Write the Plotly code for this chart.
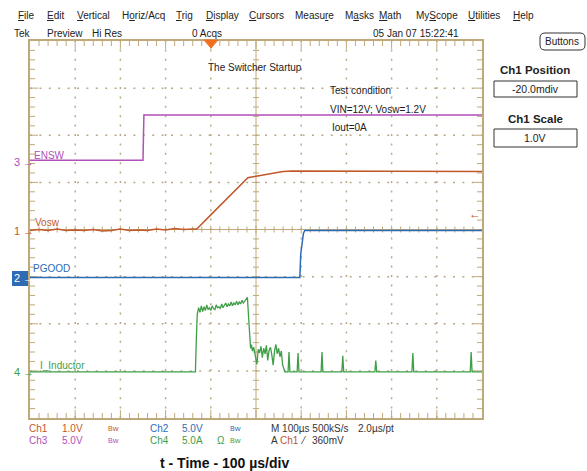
import plotly.graph_objects as go

# window / graticule geometry in pixels
W, H = 587, 471
L, R, T, B = 30, 482, 41, 418

# channel settings: units per div, position in div
ch1_scale, ch1_pos = 1.0, -0.02
ch2_scale, ch2_pos = 5.0, -1.02
ch3_scale, ch3_pos = 5.0, 1.47
ch4_scale, ch4_pos = 5.0, -3.02

# time base: 100 us/div, 10 div
t_span = 1000

# Ch3 - ENSW (V)
ensw_t = [0, 250, 252, 1000]
ensw_v = [0.0, 0.0, 4.8, 4.8]

# Ch1 - Vosw (V)
vosw_t = [0, 20, 40, 60, 80, 100, 120, 140, 160, 180, 200, 220, 240, 260, 280, 300, 320, 340, 360, 369,
          400, 430, 460, 482, 500, 520, 540, 560, 580, 600, 640, 700, 800, 900, 1000]
vosw_v = [0.0, 0.02, 0.0, 0.03, 0.0, 0.01, 0.0, 0.02, -0.01, 0.0, 0.03, 0.0, 0.01, 0.0, 0.03, 0.01, 0.04, 0.02, 0.03, 0.03,
          0.33, 0.62, 0.91, 1.12, 1.15, 1.18, 1.22, 1.25, 1.26, 1.26, 1.25, 1.25, 1.25, 1.25, 1.25]

# Ch2 - PGOOD (V)
pgood_t = [0, 597, 599, 602, 605, 608, 1000]
pgood_v = [0.0, 0.0, 2.5, 4.0, 4.7, 5.0, 5.0]

# Ch4 - I_Inductor (A)
ind_t = [0, 366, 368, 370, 373, 376, 379, 382, 385, 388, 391, 394, 397, 400, 403, 406, 409, 412, 415, 418,
         421, 424, 427, 430, 433, 436, 439, 442, 445, 448, 451, 454, 457, 460, 463, 466, 469, 472, 475, 478,
         481, 484, 486, 488, 490, 492, 495, 498, 502, 505, 508, 511, 514, 517, 520, 523, 526, 529, 532, 535,
         538, 541, 544, 547, 550, 553, 556, 559, 562, 564, 571, 573, 575, 591, 593, 595, 644, 646, 648, 690,
         692, 694, 763, 765, 767, 845, 847, 849, 974, 976, 978, 1000]
ind_a = [0, 0, 3.5, 6.1, 6.8, 6.3, 7.0, 6.4, 6.9, 6.5, 7.1, 6.6, 6.8, 6.5, 7.0, 6.7, 6.6, 7.1, 6.8, 6.9,
         6.7, 7.2, 6.8, 7.0, 7.3, 6.9, 7.2, 7.0, 7.4, 7.0, 7.3, 7.1, 7.5, 7.1, 7.4, 7.2, 7.6, 7.3, 7.5, 7.6,
         7.9, 5.5, 3.8, 2.5, 2.9, 2.2, 2.6, 1.6, 0.8, 2.4, 2.0, 2.7, 1.5, 2.5, 1.9, 2.8, 1.2, 2.3, 2.6, 1.8,
         0.7, 2.2, 2.9, 1.9, 2.5, 1.6, 2.2, 0.7, 0.3, 0, 0, 2.1, 0, 0, 2.0, 0, 0, 2.1, 0, 0,
         1.7, 0, 0, 1.2, 0, 0, 2.0, 0, 0, 2.1, 0, 0]

# colours
c_orange = '#c0582a'
c_purple = '#b050b8'
c_blue = '#2d6bb4'
c_green = '#3f9e48'
c_grid = '#bfa978'
c_dots = '#b8aa86'
FONT = 'Liberation Sans, Arial, sans-serif'


def px(x):
    return (x - L) / (R - L)


def py(y):
    return (B - y) / (B - T)


def ch_range(scale, pos):
    return [(-4 - pos) * scale, (4 - pos) * scale]


fig = go.Figure()

# Ch1 lives on the main y axis, the other channels on hidden overlay axes
fig.add_trace(go.Scatter(x=ensw_t, y=ensw_v, yaxis='y3', mode='lines',
                         line=dict(color=c_purple, width=1.5), showlegend=False))
fig.add_trace(go.Scatter(x=vosw_t, y=vosw_v, mode='lines',
                         line=dict(color=c_orange, width=1.5), showlegend=False))
fig.add_trace(go.Scatter(x=ind_t, y=ind_a, yaxis='y4', mode='lines',
                         line=dict(color=c_green, width=1.3), showlegend=False))
fig.add_trace(go.Scatter(x=pgood_t, y=pgood_v, yaxis='y2', mode='lines',
                         line=dict(color=c_blue, width=1.5), showlegend=False))

border = dict(showline=True, linecolor=c_grid, linewidth=1.5, mirror=True, ticks='',
              showticklabels=False, zeroline=False, showgrid=False)

fig.update_layout(
    width=W, height=H,
    margin=dict(l=L, r=W - R, t=T, b=H - B),
    paper_bgcolor='white', plot_bgcolor='rgba(0,0,0,0)',
    font=dict(family=FONT, size=10, color='#222222'),
    xaxis=dict(range=[0, t_span], **border),
    yaxis=dict(range=ch_range(ch1_scale, ch1_pos), **border),
    yaxis2=dict(range=ch_range(ch2_scale, ch2_pos), overlaying='y', visible=False),
    yaxis3=dict(range=ch_range(ch3_scale, ch3_pos), overlaying='y', visible=False),
    yaxis4=dict(range=ch_range(ch4_scale, ch4_pos), overlaying='y', visible=False),
)

annotations = []


def text(x, y, s, color='#222222', size=10, xanchor='left', bold=False):
    if bold:
        s = '<b>' + s + '</b>'
    annotations.append(dict(x=px(x), y=py(y), xref='paper', yref='paper', text=s,
                            showarrow=False, xanchor=xanchor, yanchor='middle',
                            font=dict(color=color, size=size, family=FONT)))


def u(s, i):
    return s[:i] + '<span style="text-decoration:underline">' + s[i] + '</span>' + s[i + 1:]


# menu bar
menu = [('File', 16, 0), ('Edit', 45, 0), ('Vertical', 75, 0), ('Horiz/Acq', 120, 1), ('Trig', 174, 0),
        ('Display', 204, 0), ('Cursors', 247, 0), ('Measure', 293, 5), ('Masks', 343, 1), ('Math', 377, 0),
        ('MyScope', 414, 2), ('Utilities', 466, 0), ('Help', 511, 0)]
for name, x, i in menu:
    text(x, 15, u(name, i), size=10)

text(12, 33, 'Tek')
text(45, 33, 'Preview')
text(90, 33, 'Hi Res')
text(190, 33, '0 Acqs')
text(371, 33, '05 Jan 07 15:22:41')

# right panel
text(562, 41, 'Buttons', size=10, xanchor='center')
text(535, 70, 'Ch1 Position', size=11.5, xanchor='center', bold=True)
text(535, 89, '-20.0mdiv', size=10.5, xanchor='center')
text(535, 119, 'Ch1 Scale', size=11.5, xanchor='center', bold=True)
text(535, 138, '1.0V', size=10.5, xanchor='center')

# notes inside the graticule
text(255, 67, 'The Switcher Startup', xanchor='center')
text(328, 90, 'Test condition')
text(328, 109, 'VIN=12V; Vosw=1.2V')
text(330, 127, 'Iout=0A')

# trace labels
text(32, 155, 'ENSW', color=c_purple)
text(33, 222, 'Vosw', color=c_orange)
text(31, 268, 'PGOOD', color=c_blue)
text(38, 365, 'I_Inductor', color=c_green)

# channel markers
for num, yy, col in [('3', 162, c_purple), ('1', 231, c_orange), ('2', 278, 'white'), ('4', 372, c_green)]:
    text(22, yy, num, color=col, size=11, xanchor='right')
    text(21, yy, '→', color=col, size=11, xanchor='left')
text(475, 214, '←', color=c_orange, size=12, xanchor='center')

# readouts
bw = '<span style="font-size:7px">B</span>w'
text(27, 428, 'Ch1', color=c_orange)
text(60, 428, '1.0V', color=c_orange)
text(106, 428, bw, color=c_orange, size=8)
text(148, 428, 'Ch2', color=c_blue)
text(180, 428, '5.0V', color=c_blue)
text(228, 428, bw, color=c_blue, size=8)
text(269, 428, 'M 100µs 500kS/s', color='#333333')
text(356, 428, '2.0µs/pt', color='#333333')
text(27, 440, 'Ch3', color=c_purple)
text(60, 440, '5.0V', color=c_purple)
text(106, 440, bw, color=c_purple, size=8)
text(148, 440, 'Ch4', color=c_green)
text(180, 440, '5.0A', color=c_green)
text(215, 440, 'Ω', color=c_green)
text(228, 440, bw, color=c_green, size=8)
text(269, 440, 'A', color='#333333')
text(278, 440, 'Ch1', color=c_orange)
text(298, 440, '⁄', color='#333333')
text(310, 440, '360mV', color='#333333')

# caption
text(224, 463, 't - Time - 100 µs/div', color='#111111', size=14, xanchor='center', bold=True)

fig.update_layout(annotations=annotations)

paper = dict(xref='paper', yref='paper')
dom = dict(xref='x domain', yref='y domain')
shapes = [
    dict(type='rect', x0=px(12), x1=px(30), y0=py(286), y1=py(271),
         fillcolor=c_blue, line=dict(width=0), layer='below', **paper),
    dict(type='rect', x0=px(494), x1=px(577), y0=py(97), y1=py(81),
         line=dict(color='#333333', width=1), **paper),
    dict(type='rect', x0=px(494), x1=px(577), y0=py(147), y1=py(129),
         line=dict(color='#333333', width=1), **paper),
    dict(type='path', path=f'M {px(545)},{py(33)} L {px(580)},{py(33)} Q {px(585)},{py(33)} {px(585)},{py(38)} '
                           f'L {px(585)},{py(45)} Q {px(585)},{py(50)} {px(580)},{py(50)} L {px(545)},{py(50)} '
                           f'Q {px(540)},{py(50)} {px(540)},{py(45)} L {px(540)},{py(38)} '
                           f'Q {px(540)},{py(33)} {px(545)},{py(33)} Z',
         line=dict(color='#333333', width=1), **paper),
]

# graticule (drawn in the plot's own domain): dotted division lines,
# solid centre cross, ticks every 1/5 div on the centre cross and the border
grat = dict(type='line', line=dict(color=c_grid, width=1), layer='below', **dom)
dots = dict(type='line', line=dict(color=c_dots, width=1.5, dash='2px,7.4px'), layer='below', **dom)
cx, cy = (L + R) / 2, (T + B) / 2
for k in range(1, 10):
    if k != 5:
        shapes.append(dict(x0=k / 10, x1=k / 10, y0=0, y1=1, **dots))
for k in range(1, 8):
    if k != 4:
        shapes.append(dict(x0=0, x1=1, y0=k / 8, y1=k / 8, **dots))
shapes.append(dict(x0=0.5, x1=0.5, y0=0, y1=1, **grat))
shapes.append(dict(x0=0, x1=1, y0=0.5, y1=0.5, **grat))
for k in range(1, 50):
    f = k / 50
    major = k % 5 == 0
    half = 4 if major else 3
    edge = 8 if major else 5
    shapes.append(dict(x0=f, x1=f, y0=py(cy + half), y1=py(cy - half), **grat))
    shapes.append(dict(x0=f, x1=f, y0=1, y1=py(T + edge), **grat))
    shapes.append(dict(x0=f, x1=f, y0=0, y1=py(B - edge), **grat))
for k in range(1, 40):
    f = k / 40
    major = k % 5 == 0
    half = 4 if major else 3
    edge = 8 if major else 5
    shapes.append(dict(x0=px(cx - half), x1=px(cx + half), y0=f, y1=f, **grat))
    shapes.append(dict(x0=0, x1=px(L + edge), y0=f, y1=f, **grat))
    shapes.append(dict(x0=1, x1=px(R - edge), y0=f, y1=f, **grat))

# trigger position marker
shapes.append(dict(type='path', path=f'M {px(204)},{py(40)} L {px(218)},{py(40)} L {px(211)},{py(48)} Z',
                   fillcolor='#f07020', line=dict(color='#f07020', width=1), **paper))
fig.update_layout(shapes=shapes)

fig.write_html("out.html", config={'displayModeBar': False},
               post_script="document.body.style.margin='0';")
